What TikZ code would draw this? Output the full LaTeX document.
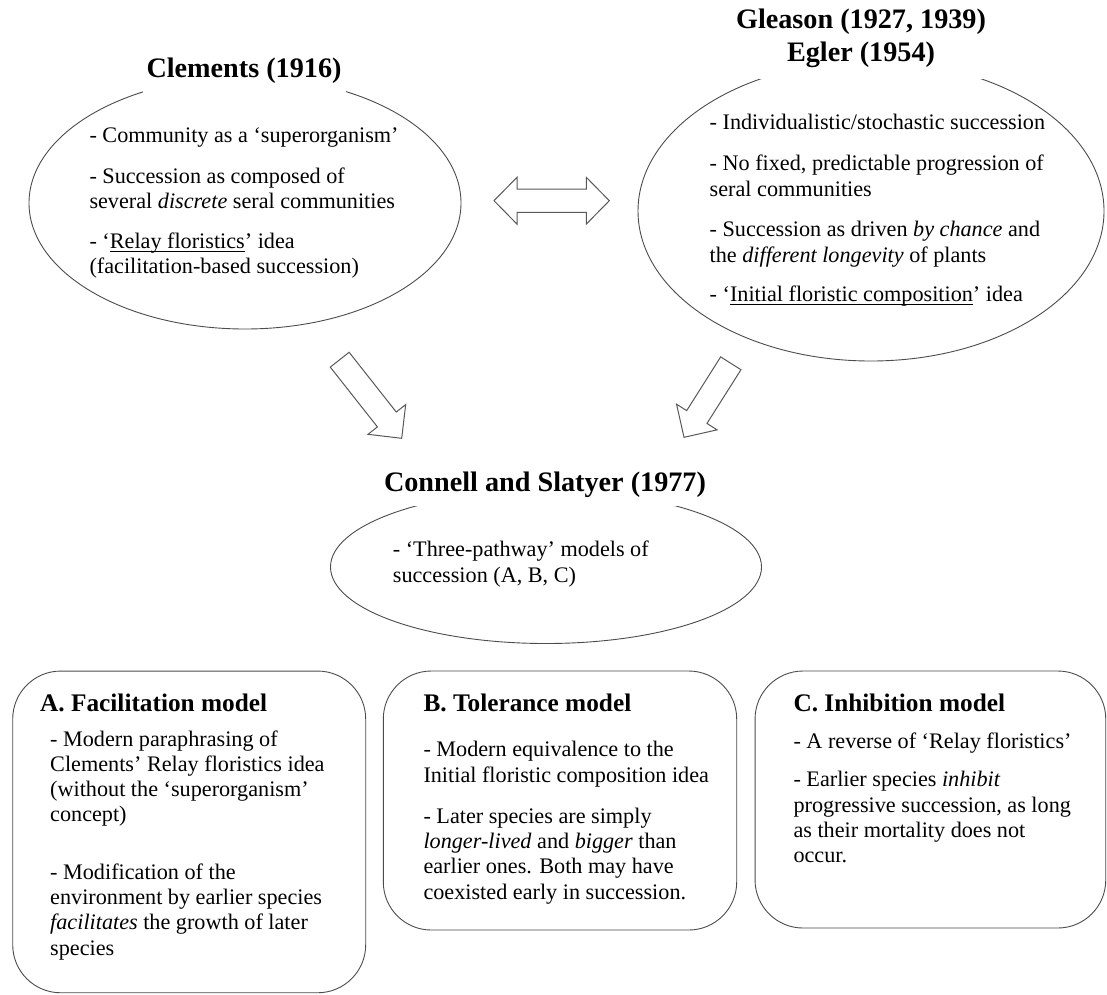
\documentclass[tikz,border=0pt]{standalone}
\usepackage{fontspec}
\setmainfont{Liberation Serif}
\usetikzlibrary{shapes.geometric,calc}

% type sizes
\newcommand{\bodysize}{\fontsize{22.2pt}{25.3pt}\selectfont}
\newcommand{\titlesize}{\fontsize{28.2pt}{33.4pt}\selectfont\bfseries}
\newcommand{\headsize}{\fontsize{25.3pt}{30pt}\selectfont\bfseries}

% stacked lines whose reference point is the first baseline
\newcommand{\stack}[1]{\begin{tabular}[t]{@{}l@{}}#1\end{tabular}}
\newcommand{\cstack}[1]{\begin{tabular}[t]{@{}c@{}}#1\end{tabular}}

% underline set close to the baseline, crossing descenders
\newsavebox{\ulbox}
\newcommand{\ulin}[1]{\sbox{\ulbox}{#1}\rlap{\rule[-3.4pt]{\wd\ulbox}{1.1pt}}\usebox{\ulbox}}

\tikzset{
  outline/.style={draw=black!70, line width=0.9pt},
  bubble/.style={outline, ellipse, inner sep=0pt},
  panel/.style={outline, rectangle, rounded corners=48pt, inner sep=0pt},
  txt/.style={anchor=base west, inner sep=0pt, font=\bodysize},
  hd/.style={anchor=base west, inner sep=0pt, font=\headsize},
  ttl/.style={anchor=base, fill=white, font=\titlesize, inner xsep=4pt},
  blockline/.style={draw=black!65, line width=1pt, fill=white, line join=miter},
}

% hollow block arrow from a tail point #1 to a tip point #2
\newcommand{\hollowarrow}[2]{%
  \coordinate (#2-hb) at ($(#2)!24pt!(#1)$);
  \draw[blockline] ($(#1)!12pt!90:(#2)$) -- ($(#2-hb)!12pt!-90:(#1)$)
    -- ($(#2-hb)!24pt!-90:(#1)$) -- (#2) -- ($(#2-hb)!24pt!90:(#1)$)
    -- ($(#2-hb)!12pt!90:(#1)$) -- ($(#1)!12pt!-90:(#2)$) -- cycle;}

\begin{document}
\begin{tikzpicture}[x=1pt,y=-1pt]
  \fill[white] (0,0) rectangle (1107,994);
  \useasboundingbox (0,0) rectangle (1107,994);

  % the three schools of thought
  \node[bubble, minimum width=432pt, minimum height=252pt] (clements) at (245,203) {};
  \node[bubble, minimum width=466pt, minimum height=300pt] (gleason) at (871,211) {};
  \node[bubble, minimum width=431pt, minimum height=153pt] (connell) at (546,567) {};

  % the three pathway models
  \node[panel, minimum width=353pt, minimum height=321.7pt] (panelA) at (189.2,831.9) {};
  \node[panel, minimum width=353.4pt, minimum height=259pt] (panelB) at (560,800.5) {};
  \node[panel, minimum width=350.7pt, minimum height=257pt] (panelC) at (930.4,799.5) {};

  % two-headed arrow between the opposing views
  \coordinate (swapL) at (494,200.7);
  \coordinate (swapR) at (609.3,200.7);
  \coordinate (hL) at ($(swapL)!23pt!(swapR)$);
  \coordinate (hR) at ($(swapR)!23pt!(swapL)$);
  \draw[blockline] (swapL) -- ($(hL)!23.4pt!90:(swapR)$) -- ($(hL)!11.7pt!90:(swapR)$)
    -- ($(hR)!11.7pt!-90:(swapL)$) -- ($(hR)!23.4pt!-90:(swapL)$) -- (swapR)
    -- ($(hR)!23.4pt!90:(swapL)$) -- ($(hR)!11.7pt!90:(swapL)$)
    -- ($(hL)!11.7pt!-90:(swapR)$) -- ($(hL)!23.4pt!-90:(swapR)$) -- cycle;

  % arrows down to the synthesis
  \coordinate (fwdTail) at (339.7,359.7);
  \coordinate (fwdTip) at (401.7,438.3);
  \hollowarrow{fwdTail}{fwdTip}
  \coordinate (bwdTail) at (730.8,363.3);
  \coordinate (bwdTip) at (684,437.3);
  \hollowarrow{bwdTail}{bwdTip}

  % headings
  \node[ttl, inner ysep=6pt] (clementsTitle) at (244,77) {\cstack{Clements (1916)}};
  \node[ttl, inner ysep=7pt] (gleasonTitle) at (861,28.3) {\cstack{Gleason (1927, 1939)\\Egler (1954)}};
  \node[ttl, inner ysep=4.5pt] (connellTitle) at (545,491.7) {\cstack{Connell and Slatyer (1977)}};

  % Clements
  \node[txt] (cl1) at (89.3,142.7) {\stack{- Community as a ‘superorganism’}};
  \node[txt] (cl2) at (89.3,183.3) {\stack{- Succession as composed of\\several \textit{discrete} seral communities}};
  \node[txt] (cl3) at (89.3,248.3) {\stack{- ‘\ulin{Relay floristics}’ idea\\(facilitation-based succession)}};

  % Gleason and Egler
  \node[txt] (gl1) at (709.5,129) {\stack{- Individualistic/stochastic succession}};
  \node[txt] (gl2) at (709.5,170.7) {\stack{- No fixed, predictable progression of\\seral communities}};
  \node[txt] (gl3) at (709.5,236.7) {\stack{- Succession as driven \textit{by chance} and\\the \textit{different longevity} of plants}};
  \node[txt] (gl4) at (709.5,301.7) {\stack{- ‘\ulin{Initial floristic composition}’ idea}};

  % Connell and Slatyer
  \node[txt] (cs1) at (392.7,556) {\stack{- ‘Three-pathway’ models of\\[1.5pt]succession (A, B, C)}};

  % model A
  \node[hd] (headA) at (40,711.7) {A. Facilitation model};
  \node[txt] (a1) at (50,746) {\stack{- Modern paraphrasing of\\Clements’ Relay floristics idea\\(without the ‘superorganism’\\concept)}};
  \node[txt] (a2) at (50,879.3) {\stack{- Modification of the\\environment by earlier species\\\textit{facilitates} the growth of later\\species}};

  % model B
  \node[hd] (headB) at (423.3,711.7) {B. Tolerance model};
  \node[txt] (b1) at (423.3,756.7) {\stack{- Modern equivalence to the\\Initial floristic composition idea}};
  \node[txt] (b2) at (423.3,823.3) {\stack{- Later species are simply\\\textit{longer-lived} and \textit{bigger} than\\earlier ones. Both may have\\coexisted early in succession.}};

  % model C
  \node[hd] (headC) at (793.3,711.7) {C. Inhibition model};
  \node[txt] (c1) at (793.3,748.3) {\stack{- A reverse of ‘Relay floristics’}};
  \node[txt] (c2) at (793.3,786.7) {\stack{- Earlier species \textit{inhibit}\\progressive succession, as long\\as their mortality does not\\occur.}};
\end{tikzpicture}
\end{document}
